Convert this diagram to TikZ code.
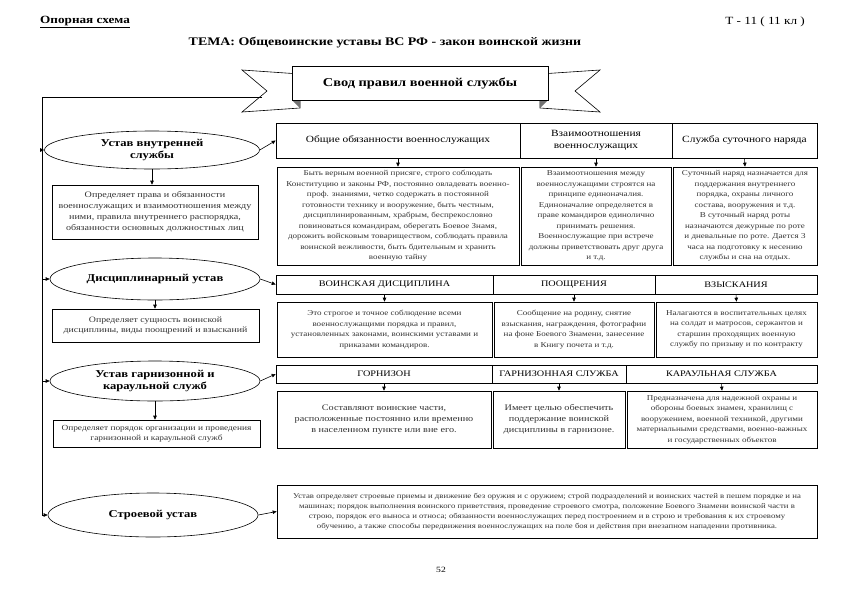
\documentclass[tikz,border=0pt]{standalone}
\usepackage{fontspec}
\setmainfont[FakeStretch=1.2]{Liberation Serif}
\usetikzlibrary{shapes.geometric,arrows.meta}
\tikzset{
 arr/.style={-{Triangle[length=4pt,width=3.5pt]}, line width=0.6pt},
 ln/.style={line width=0.6pt},
 ell/.style={ellipse, draw, line width=0.6pt, fill=white, inner sep=0pt, align=center, font=\fontsize{10.5}{12.5}\selectfont\bfseries},
 cell/.style={rectangle, draw, line width=0.6pt, inner sep=1pt, align=center, font=\fontsize{9.5}{11.5}\selectfont},
 capcell/.style={cell, font=\fontsize{8.5}{10}\selectfont},
 txt/.style={rectangle, draw, line width=0.6pt, inner sep=1pt, align=center, text=black!80, font=\fontsize{7.5}{10.5}\selectfont},
 plain/.style={inner sep=0pt, font=\fontsize{11}{13}\selectfont\bfseries},
}
\begin{document}
\begin{tikzpicture}[x=1pt,y=-1pt]
\useasboundingbox (0,0) rectangle (841,595);

% top texts
\node[plain, anchor=west] (op) at (40,22) {\underline{Опорная схема}};
\node[plain, anchor=east, font=\fontsize{11}{13}\selectfont] (tt) at (805,22) {Т - 11 ( 11 кл )};
\node[plain, font=\fontsize{11.6}{13}\selectfont\bfseries] (tema) at (385,43) {ТЕМА: Общевоинские уставы ВС РФ - закон воинской жизни};

% ribbon tails
\draw[ln, fill=white] (300,74) -- (242,70) -- (267,91) -- (242,112) -- (300,108) -- cycle;
\draw[ln, fill=white] (540,74) -- (600,70) -- (575,91) -- (600,112) -- (540,108) -- cycle;
\fill[black!55] (292,100) -- (300,108) -- (300,100) -- cycle;
\fill[black!55] (548,100) -- (540,108) -- (540,100) -- cycle;
\node[draw, line width=0.6pt, fill=white, minimum width=256pt, minimum height=34pt, font=\fontsize{12}{14}\selectfont\bfseries] (ban) at (420,83) {Свод правил военной службы};

% left line
\coordinate (tailL) at (262,97);
\coordinate (L0) at (42,97);

% ellipses
\node[ell, minimum width=215pt, minimum height=38pt] (e1) at (152,150) {Устав внутренней\\службы};
\node[ell, minimum width=210pt, minimum height=42pt] (e2) at (155,279) {Дисциплинарный устав};
\node[ell, minimum width=210pt, minimum height=40pt] (e3) at (155,381) {Устав гарнизонной и\\караульной служб};
\node[ell, minimum width=210pt, minimum height=44pt] (e4) at (153,515) {Строевой устав};

% left boxes
\node[txt, minimum width=206pt, minimum height=54pt, font=\fontsize{8.4}{11}\selectfont] (d1) at (155,212) {Определяет права и обязанности\\военнослужащих и взаимоотношения между\\ними, правила внутреннего распорядка,\\обязанности основных должностных лиц};
\node[txt, minimum width=207pt, minimum height=33pt, font=\fontsize{8.2}{10.5}\selectfont] (d2) at (155.5,325.5) {Определяет сущность воинской\\дисциплины, виды поощрений и взысканий};
\node[txt, minimum width=207pt, minimum height=27pt, font=\fontsize{7.8}{10}\selectfont] (d3) at (156.5,433.5) {Определяет порядок организации и проведения\\гарнизонной и караульной служб};

% row 1
\node[cell, minimum width=244pt, minimum height=35pt] (h11) at (398,140.5) {Общие обязанности военнослужащих};
\node[cell, minimum width=152pt, minimum height=35pt] (h12) at (596,140.5) {Взаимоотношения\\военнослужащих};
\node[cell, minimum width=145pt, minimum height=35pt] (h13) at (744.5,140.5) {Служба суточного наряда};
\node[txt, minimum width=242pt, minimum height=98pt] (b11) at (398,216) {Быть верным военной присяге, строго соблюдать\\Конституцию и законы РФ, постоянно овладевать военно-\\проф. знаниями, четко содержать в постоянной\\готовности технику и вооружение, быть честным,\\дисциплинированным, храбрым, беспрекословно\\повиноваться командирам, оберегать Боевое Знамя,\\дорожить войсковым товариществом, соблюдать правила\\воинской вежливости, быть бдительным и хранить\\военную тайну};
\node[txt, minimum width=150pt, minimum height=98pt] (b12) at (596,216) {Взаимоотношения между\\военнослужащими строятся на\\принципе единоначалия.\\Единоначалие определяется в\\праве командиров единолично\\принимать решения.\\Военнослужащие при встрече\\должны приветствовать друг друга\\и т.д.};
\node[txt, minimum width=144pt, minimum height=98pt] (b13) at (745,216) {Суточный наряд назначается для\\поддержания внутреннего\\порядка, охраны личного\\состава, вооружения и т.д.\\В суточный наряд роты\\назначаются дежурные по роте\\и дневальные по роте. Дается 3\\часа на подготовку к несению\\службы и сна на отдых.};

% row 2
\node[capcell, minimum width=217pt, minimum height=19pt] (h21) at (384.5,284.5) {ВОИНСКАЯ ДИСЦИПЛИНА};
\node[capcell, minimum width=162pt, minimum height=19pt] (h22) at (574,284.5) {ПООЩРЕНИЯ};
\node[capcell, minimum width=162pt, minimum height=19pt] (h23) at (736,284.5) {ВЗЫСКАНИЯ};
\node[txt, minimum width=215pt, minimum height=55pt] (b21) at (384.5,329.5) {Это строгое и точное соблюдение всеми\\военнослужащими порядка и правил,\\установленных законами, воинскими уставами и\\приказами командиров.};
\node[txt, minimum width=160pt, minimum height=55pt] (b22) at (574,329.5) {Сообщение на родину, снятие\\взыскания, награждения, фотографии\\на фоне Боевого Знамени, занесение\\в Книгу почета и т.д.};
\node[txt, minimum width=161pt, minimum height=55pt] (b23) at (736.5,329.5) {Налагаются в воспитательных целях\\на солдат и матросов, сержантов и\\старшин проходящих военную\\службу по призыву и по контракту};

% row 3
\node[capcell, minimum width=216pt, minimum height=18pt] (h31) at (384,374) {ГОРНИЗОН};
\node[capcell, minimum width=134pt, minimum height=18pt] (h32) at (559,374) {ГАРНИЗОННАЯ СЛУЖБА};
\node[capcell, minimum width=191pt, minimum height=18pt] (h33) at (721.5,374) {КАРАУЛЬНАЯ СЛУЖБА};
\node[txt, minimum width=214pt, minimum height=57pt, font=\fontsize{8.5}{11}\selectfont] (b31) at (384,419.5) {Составляют воинские части,\\расположенные постоянно или временно\\в населенном пункте или вне его.};
\node[txt, minimum width=132pt, minimum height=57pt, font=\fontsize{8.5}{11}\selectfont] (b32) at (559,419.5) {Имеет целью обеспечить\\поддержание воинской\\дисциплины в гарнизоне.};
\node[txt, minimum width=190pt, minimum height=57pt] (b33) at (722,419.5) {Предназначена для надежной охраны и\\обороны боевых знамен, хранилищ с\\вооружением, военной техникой, другими\\материальными средствами, военно-важных\\и государственных объектов};

% row 4
\node[txt, minimum width=540pt, minimum height=53pt, font=\fontsize{7.3}{10}\selectfont] (b4) at (547,511.5) {Устав определяет строевые приемы и движение без оружия и с оружием; строй подразделений и воинских частей в пешем порядке и на\\машинах; порядок выполнения воинского приветствия, проведение строевого смотра, положение Боевого Знамени воинской части в\\строю, порядок его выноса и относа; обязанности военнослужащих перед построением и в строю и требования к их строевому\\обучению, а также способы передвижения военнослужащих на поле боя и действия при внезапном нападении противника.};

% page number
\node[font=\fontsize{8}{10}\selectfont] (pg) at (441,570) {52};

% connectors
\draw[arr] (tailL) -- (L0) |- (e4.west);
\draw[arr] (e1.west -| L0) -- (e1.west);
\draw[arr] (e2.west -| L0) -- (e2.west);
\draw[arr] (e3.west -| L0) -- (e3.west);

\draw[arr] (e1.south) -- (e1.south |- d1.north);
\draw[arr] (e2.south) -- (e2.south |- d2.north);
\draw[arr] (e3.south) -- (e3.south |- d3.north);

\draw[arr] (e1.east) -- (h11.west);
\draw[arr] (e2.east) -- (h21.west);
\draw[arr] (e3.east) -- (h31.west);
\draw[arr] (e4.east) -- (b4.west);

\foreach \h/\b in {h11/b11,h12/b12,h13/b13,h21/b21,h22/b22,h23/b23,h31/b31,h32/b32,h33/b33}
  \draw[arr] (\h.south) -- (\b.north);
\end{tikzpicture}
\end{document}
